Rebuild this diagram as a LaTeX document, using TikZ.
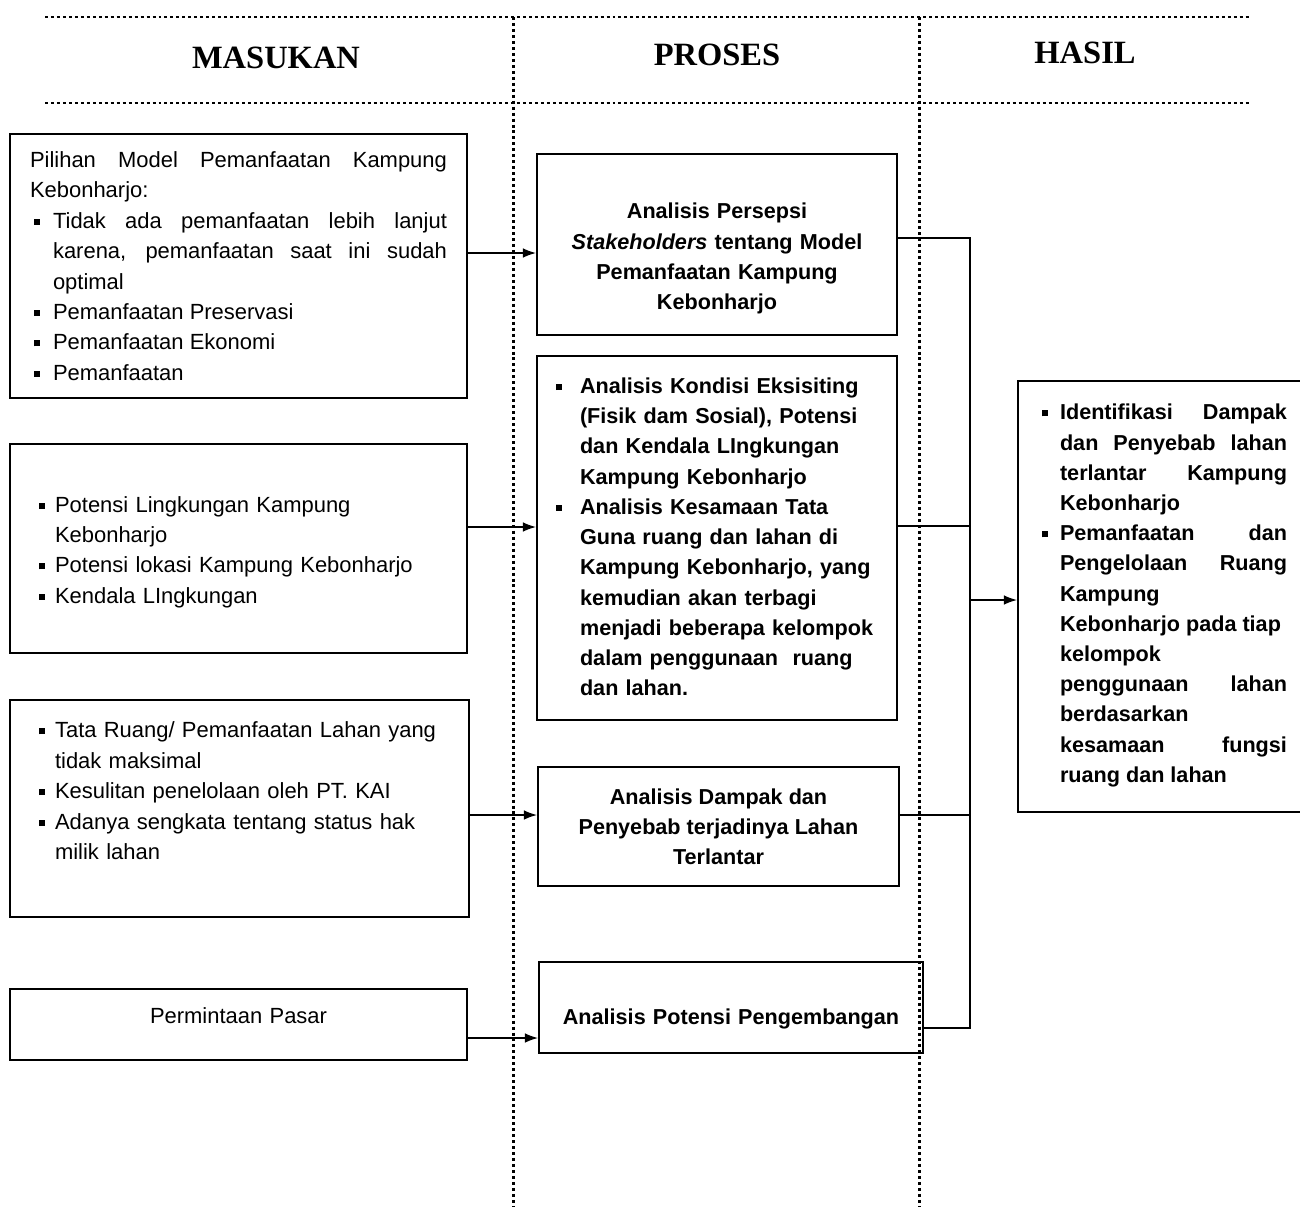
\documentclass[tikz,border=0pt]{standalone}
\usepackage{fontspec}
\setmainfont{Liberation Serif}
\setsansfont{Liberation Sans}
\usetikzlibrary{arrows.meta}

\newlength{\bulind}
\setlength{\bulind}{0.46cm}
\newcommand{\sqitem}{\par\noindent\hangindent=\bulind\hangafter=1\makebox[\bulind][l]{\hspace{0.08cm}\rule[0.3ex]{0.12cm}{0.12cm}}}
\tolerance=10000
\hyphenpenalty=10000
\hbadness=10000

\begin{document}
\begin{tikzpicture}[x=0.02cm,y=-0.02cm,
	sekat/.style={line width=1.7pt,dash pattern=on 1.7pt off 1.7pt},
	judul/.style={font=\fontsize{18.5}{20}\selectfont\bfseries},
	kotak/.style={draw,line width=1.1pt,inner sep=0pt,font=\sffamily\fontsize{12.5}{17.3}\selectfont},
	kotakb/.style={kotak,font=\sffamily\bfseries\fontsize{12.3}{17.2}\selectfont},
	panah/.style={line width=0.9pt,-{Latex[length=7.5pt,width=5.5pt]}},
	garis/.style={line width=0.9pt}]
		\useasboundingbox (0,0) rectangle (1300,1206);
		% kolom
		\draw[sekat] (45,17) -- (1250,17);
		\draw[sekat] (45,103) -- (1250,103);
		\draw[sekat] (513,17) -- (513,1206);
		\draw[sekat] (919,17) -- (919,1206);
		\node[judul] (masukan) at (276,58) {MASUKAN};
		\node[judul] (proses) at (717,55) {PROSES};
		\node[judul] (hasiljudul) at (1085,53) {HASIL};
		% masukan
		\node[kotak,minimum width=9.14cm,minimum height=5.28cm,text width=8.34cm,align=justify] (pilihan) at (238.5,266) {%
			\noindent Pilihan Model Pemanfaatan Kampung\linebreak Kebonharjo:
			\sqitem Tidak ada pemanfaatan lebih lanjut\linebreak karena, pemanfaatan saat ini sudah\linebreak optimal
			\sqitem Pemanfaatan Preservasi
			\sqitem Pemanfaatan Ekonomi
			\sqitem Pemanfaatan\par};
		\node[kotak,minimum width=9.14cm,minimum height=4.18cm,text width=8.14cm,align=left] (potensi) at (238.5,548.5) {%
			\setlength{\bulind}{0.4cm}%
			\sqitem Potensi Lingkungan Kampung\newline Kebonharjo
			\sqitem Potensi lokasi Kampung Kebonharjo
			\sqitem Kendala LIngkungan\rule[-0.24cm]{0pt}{0.24cm}\par};
		\node[kotak,minimum width=9.18cm,minimum height=4.34cm,text width=8.18cm,align=left] (kendala) at (239.5,808.5) {%
			\setlength{\bulind}{0.4cm}%
			\sqitem Tata Ruang/ Pemanfaatan Lahan yang\newline tidak maksimal
			\sqitem Kesulitan penelolaan oleh PT. KAI
			\sqitem Adanya sengkata tentang status hak\newline milik lahan\rule[-1cm]{0pt}{1cm}\par};
		\node[kotak,minimum width=9.14cm,minimum height=1.42cm,text width=8.34cm,align=center] (pasar) at (238.5,1024.5) {%
			Permintaan Pasar\rule[-0.34cm]{0pt}{0.34cm}};
		% proses
		\node[kotakb,minimum width=7.2cm,minimum height=3.62cm,text width=6.8cm,align=center] (persepsi) at (717,244.5) {%
			\rule{0pt}{0.88cm}Analisis Persepsi\\ \textit{Stakeholders} tentang Model\\ Pemanfaatan Kampung\\ Kebonharjo};
		\node[kotakb,minimum width=7.2cm,minimum height=7.28cm,text width=6.6cm,align=left] (kondisi) at (717,538) {%
			\setlength{\bulind}{0.56cm}%
			\sqitem Analisis Kondisi Eksisiting\newline (Fisik dam Sosial), Potensi\newline dan Kendala LIngkungan\newline Kampung Kebonharjo
			\sqitem Analisis Kesamaan Tata\newline Guna ruang dan lahan di\newline Kampung Kebonharjo, yang\newline kemudian akan terbagi\newline menjadi beberapa kelompok\newline dalam penggunaan\ \ ruang\newline dan lahan.\rule[-0.34cm]{0pt}{0.34cm}\par};
		\node[kotakb,minimum width=7.22cm,minimum height=2.38cm,align=center] (dampak) at (718.5,826.5) {Analisis Dampak dan\\ Penyebab terjadinya Lahan\\ Terlantar};
		\node[kotakb,minimum width=7.68cm,minimum height=1.82cm,text width=7.3cm,align=center] (pengembangan) at (731,1007.5) {%
			\rule{0pt}{0.78cm}Analisis Potensi Pengembangan};
		% hasil
		\node[kotakb,minimum width=5.78cm,minimum height=8.62cm,text width=4.98cm,align=justify] (hasil) at (1162.5,596.5) {%
			\setlength{\bulind}{0.44cm}%
			\sqitem Identifikasi Dampak\linebreak dan Penyebab lahan\linebreak terlantar Kampung\linebreak Kebonharjo
			\sqitem Pemanfaatan dan\linebreak Pengelolaan Ruang\linebreak Kampung\newline Kebonharjo pada tiap\newline kelompok\newline penggunaan lahan\linebreak berdasarkan\newline kesamaan fungsi\linebreak ruang dan lahan\rule[-0.42cm]{0pt}{0.42cm}\par};
		% panah masukan ke proses
		\coordinate (y1) at (0,253);
		\coordinate (y2) at (0,527);
		\coordinate (y3) at (0,815);
		\coordinate (y4) at (0,1038);
		\draw[panah] (pilihan.east |- y1) -- (persepsi.west |- y1);
		\draw[panah] (potensi.east |- y2) -- (kondisi.west |- y2);
		\draw[panah] (kendala.east |- y3) -- (dampak.west |- y3);
		\draw[panah] (pasar.east |- y4) -- (pengembangan.west |- y4);
		% proses ke hasil
		\coordinate (b1) at (970,238);
		\coordinate (b2) at (970,526);
		\coordinate (b3) at (970,815);
		\coordinate (b4) at (970,1028);
		\coordinate (bm) at (970,600);
		\draw[garis] (persepsi.east |- b1) -- (b1) -- (b4) -- (pengembangan.east |- b4);
		\draw[garis] (kondisi.east |- b2) -- (b2);
		\draw[garis] (dampak.east |- b3) -- (b3);
		\draw[panah] (bm) -- (hasil.west |- bm);
\end{tikzpicture}
\end{document}
